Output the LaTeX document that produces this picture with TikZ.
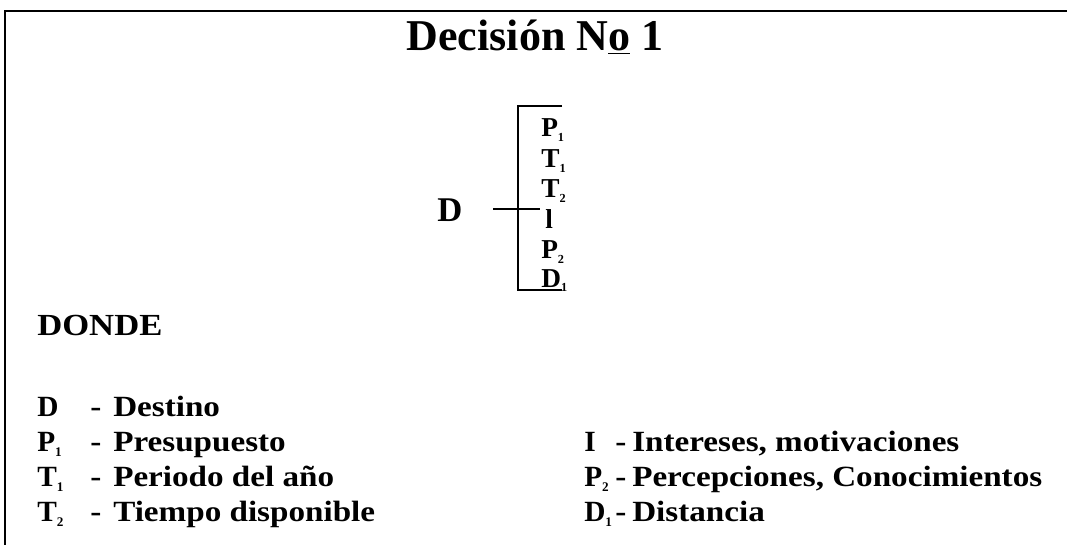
\documentclass[tikz,border=0pt]{standalone}
\usepackage{fontspec}
\usepackage{graphicx}
\setmainfont{Liberation Serif}
\newfontfamily\lgfont[FakeStretch=1.13]{Liberation Serif}
\newcommand{\sbs}[1]{\raisebox{-0.18em}{\scalebox{0.45}{#1}}}
\tikzset{
  frame/.style={line width=2.2pt},
  brk/.style={line width=2pt},
  ttl/.style={font=\bfseries\fontsize{33}{36}\selectfont, inner sep=0pt},
  lg/.style={font=\lgfont\bfseries\fontsize{22}{26}\selectfont, anchor=base west, inner sep=0pt},
  sym/.style={font=\bfseries\fontsize{22}{26}\selectfont, anchor=base west, inner sep=0pt},
  bl/.style={font=\bfseries\fontsize{20.5}{22}\selectfont, anchor=base west, inner sep=0pt},
  dsh/.style={font=\lgfont\bfseries\fontsize{22}{26}\selectfont, anchor=base, inner sep=0pt},
}
\begin{document}
\begin{tikzpicture}[x=0.75pt,y=-0.75pt]
\useasboundingbox (0,0) rectangle (1067,545);
% frame
\coordinate (fbl) at (5,545);
\coordinate (ftl) at (5,11);
\coordinate (ftr) at (1067,11);
\draw[frame] (fbl) -- (ftl) -- (ftr);
% title
\node[ttl] (title) at (535,37) {Decisión N\underline{o} 1};
% bracket
\coordinate (bt1) at (562,106);
\coordinate (bt0) at (518,106);
\coordinate (bb0) at (518,290);
\coordinate (bb1) at (562,290);
\draw[brk] (bt1) -- (bt0) -- (bb0) -- (bb1);
\coordinate (cl) at (493,209);
\coordinate (cr) at (540,209);
\draw[brk] (cl) -- (cr);
\node[font=\bfseries\fontsize{26}{28}\selectfont, inner sep=0pt] (D) at (450,210) {D};
\node[bl] (b1) at (541,137) {P\sbs{1}};
\node[bl] (b2) at (541,168) {T\sbs{1}};
\node[bl] (b3) at (541,198) {T\sbs{2}};
\node[bl] (b4) at (545,229) {l};
\node[bl] (b5) at (541,259) {P\sbs{2}};
\node[bl] (b6) at (541,287) {D\sbs{1}};
% legend
\node[lg, font=\lgfont\bfseries\fontsize{23}{26}\selectfont] (donde) at (37,335) {DONDE};
\node[sym] (s1) at (37,416) {D};
\node[dsh] (d1) at (96,416) {-};
\node[lg] (t1) at (113,416) {Destino};
\node[sym] (s2) at (37,451) {P\sbs{1}};
\node[dsh] (d2) at (96,451) {-};
\node[lg] (t2) at (113,451) {Presupuesto};
\node[sym] (s3) at (37,486) {T\sbs{1}};
\node[dsh] (d3) at (96,486) {-};
\node[lg] (t3) at (113,486) {Periodo del año};
\node[sym] (s4) at (37,521) {T\sbs{2}};
\node[dsh] (d4) at (96,521) {-};
\node[lg] (t4) at (113,521) {Tiempo disponible};
\node[sym] (s5) at (584,451) {I};
\node[dsh] (d5) at (621,451) {-};
\node[lg] (t5) at (632,451) {Intereses, motivaciones};
\node[sym] (s6) at (584,486) {P\sbs{2}};
\node[dsh] (d6) at (621,486) {-};
\node[lg] (t6) at (632,486) {Percepciones, Conocimientos};
\node[sym] (s7) at (584,521) {D\sbs{1}};
\node[dsh] (d7) at (621,521) {-};
\node[lg] (t7) at (632,521) {Distancia};
\end{tikzpicture}
\end{document}
